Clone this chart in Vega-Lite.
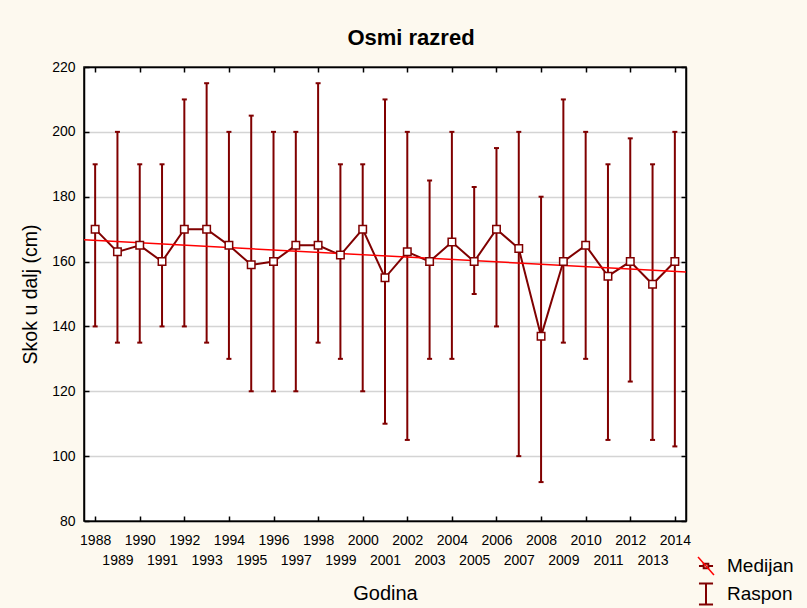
{
  "$schema": "https://vega.github.io/schema/vega-lite/v6.json",
  "width": 602,
  "height": 454,
  "autosize": "none",
  "padding": {"left": 84, "top": 67, "right": 121, "bottom": 87},
  "background": "#FDF9EF",
  "config": {
    "font": "Liberation Sans",
    "view": {"fill": "white", "stroke": "black", "strokeWidth": 1.5}
  },
  "title": {
    "text": "Osmi razred",
    "font": "Liberation Sans",
    "fontSize": 22,
    "fontWeight": "bold",
    "color": "black",
    "anchor": "middle",
    "frame": "group",
    "dx": 26,
    "offset": 10
  },
  "datasets": {
    "godine": [
      {"godina": 1988, "medijan": 170, "min": 140, "max": 190},
      {"godina": 1989, "medijan": 163, "min": 135, "max": 200},
      {"godina": 1990, "medijan": 165, "min": 135, "max": 190},
      {"godina": 1991, "medijan": 160, "min": 140, "max": 190},
      {"godina": 1992, "medijan": 170, "min": 140, "max": 210},
      {"godina": 1993, "medijan": 170, "min": 135, "max": 215},
      {"godina": 1994, "medijan": 165, "min": 130, "max": 200},
      {"godina": 1995, "medijan": 159, "min": 120, "max": 205},
      {"godina": 1996, "medijan": 160, "min": 120, "max": 200},
      {"godina": 1997, "medijan": 165, "min": 120, "max": 200},
      {"godina": 1998, "medijan": 165, "min": 135, "max": 215},
      {"godina": 1999, "medijan": 162, "min": 130, "max": 190},
      {"godina": 2000, "medijan": 170, "min": 120, "max": 190},
      {"godina": 2001, "medijan": 155, "min": 110, "max": 210},
      {"godina": 2002, "medijan": 163, "min": 105, "max": 200},
      {"godina": 2003, "medijan": 160, "min": 130, "max": 185},
      {"godina": 2004, "medijan": 166, "min": 130, "max": 200},
      {"godina": 2005, "medijan": 160, "min": 150, "max": 183},
      {"godina": 2006, "medijan": 170, "min": 140, "max": 195},
      {"godina": 2007, "medijan": 164, "min": 100, "max": 200},
      {"godina": 2008, "medijan": 137, "min": 92, "max": 180},
      {"godina": 2009, "medijan": 160, "min": 135, "max": 210},
      {"godina": 2010, "medijan": 165, "min": 130, "max": 200},
      {"godina": 2011, "medijan": 155.5, "min": 105, "max": 190},
      {"godina": 2012, "medijan": 160, "min": 123, "max": 198},
      {"godina": 2013, "medijan": 153, "min": 105, "max": 190},
      {"godina": 2014, "medijan": 160, "min": 103, "max": 200}
    ],
    "trend": [
      {"godina": 1987.5, "vrijednost": 166.7},
      {"godina": 2014.5, "vrijednost": 156.8}
    ]
  },
  "resolve": {"axis": {"x": "independent", "y": "independent"}, "scale": {"color": "independent"}},
  "layer": [
    {
      "data": {"name": "godine"},
      "mark": {"type": "rule", "strokeWidth": 2, "color": "#800000"},
      "encoding": {
        "x": {
          "field": "godina",
          "type": "quantitative",
          "scale": {"domain": [1987.5, 2014.5], "nice": false, "zero": false},
          "axis": {
            "values": [1988,1989,1990,1991,1992,1993,1994,1995,1996,1997,1998,1999,2000,2001,2002,2003,2004,2005,2006,2007,2008,2009,2010,2011,2012,2013,2014],
            "format": "d",
            "grid": false,
            "domainColor": "black",
            "domainWidth": 1.5,
            "tickColor": "black",
            "tickWidth": 1.5,
            "tickSize": -5,
            "tickOpacity": {"condition": {"test": "datum.value % 2 === 1", "value": 0}, "value": 1},
            "labelFont": "Liberation Sans",
            "labelFontSize": 14,
            "labelColor": "black",
            "labelBaseline": "top",
            "labelPadding": {"condition": {"test": "datum.value % 2 === 1", "value": 37}, "value": 17},
            "labelFlush": false,
            "labelOverlap": false,
            "labelBound": false,
            "title": "Godina",
            "titleFont": "Liberation Sans",
            "titleFontSize": 20,
            "titleFontWeight": "normal",
            "titleColor": "black",
            "titleBaseline": "middle",
            "titleY": 72
          }
        },
        "y": {
          "field": "min",
          "type": "quantitative",
          "scale": {"domain": [80, 220], "nice": false, "zero": false},
          "axis": {
            "values": [80, 100, 120, 140, 160, 180, 200, 220],
            "grid": true,
            "gridColor": "#d4d4d4",
            "gridWidth": 1.5,
            "domainColor": "black",
            "domainWidth": 1.5,
            "tickColor": "black",
            "tickWidth": 1.5,
            "tickSize": -5,
            "labelFont": "Liberation Sans",
            "labelFontSize": 14,
            "labelColor": "black",
            "labelPadding": 14,
            "title": "Skok u dalj (cm)",
            "titleFont": "Liberation Sans",
            "titleFontSize": 19.5,
            "titleFontWeight": "normal",
            "titleColor": "black",
            "titleBaseline": "middle",
            "titleX": -54,
            "titleY": 227
          }
        },
        "y2": {"field": "max"},
        "strokeDash": {
          "datum": "Raspon",
          "scale": {"domain": ["Raspon"], "range": [[1, 0]]},
          "legend": {
            "orient": "none",
            "legendX": 610.5,
            "legendY": 515.5,
            "title": null,
            "padding": 0,
            "symbolType": "M-0.67,-1H0.67M0,-1V1M-0.67,1H0.67",
            "symbolSize": 441,
            "symbolStrokeWidth": 2,
            "symbolStrokeColor": "#800000",
            "symbolFillColor": "transparent",
            "symbolDash": [1, 0],
            "labelFont": "Liberation Sans",
            "labelFontSize": 19,
            "labelColor": "black",
            "labelOffset": 9.5
          }
        }
      }
    },
    {
      "data": {"name": "godine"},
      "mark": {"type": "tick", "orient": "horizontal", "size": 5, "thickness": 2, "color": "#800000", "opacity": 1},
      "encoding": {
        "x": {"field": "godina", "type": "quantitative", "axis": null},
        "y": {"field": "max", "type": "quantitative", "axis": null}
      }
    },
    {
      "data": {"name": "godine"},
      "mark": {"type": "tick", "orient": "horizontal", "size": 5, "thickness": 2, "color": "#800000", "opacity": 1},
      "encoding": {
        "x": {"field": "godina", "type": "quantitative", "axis": null},
        "y": {"field": "min", "type": "quantitative", "axis": null}
      }
    },
    {
      "data": {"name": "godine"},
      "mark": {"type": "line", "strokeWidth": 2},
      "encoding": {
        "x": {"field": "godina", "type": "quantitative", "axis": null},
        "y": {"field": "medijan", "type": "quantitative", "axis": null},
        "color": {
          "datum": "Medijan",
          "scale": {"domain": ["Medijan"], "range": ["#800000"]},
          "legend": {
            "orient": "none",
            "legendX": 610.5,
            "legendY": 487.5,
            "title": null,
            "padding": 0,
            "symbolType": "M-0.67,0H-0.22M0.22,0H0.67M-0.22,-0.22H0.22V0.22H-0.22Z",
            "symbolSize": 441,
            "symbolStrokeWidth": 2,
            "symbolFillColor": "transparent",
            "labelFont": "Liberation Sans",
            "labelFontSize": 19,
            "labelColor": "black",
            "labelOffset": 9.5
          }
        }
      }
    },
    {
      "data": {"name": "trend"},
      "mark": {"type": "line", "strokeWidth": 1.5},
      "encoding": {
        "x": {
          "field": "godina",
          "type": "quantitative",
          "axis": {
            "orient": "top",
            "values": [1988,1990,1992,1994,1996,1998,2000,2002,2004,2006,2008,2010,2012,2014],
            "labels": false,
            "grid": false,
            "domainColor": "black",
            "domainWidth": 1.5,
            "tickColor": "black",
            "tickWidth": 1.5,
            "tickSize": -5,
            "title": null
          }
        },
        "y": {
          "field": "vrijednost",
          "type": "quantitative",
          "axis": {
            "orient": "right",
            "values": [80, 100, 120, 140, 160, 180, 200, 220],
            "labels": false,
            "grid": false,
            "domainColor": "black",
            "domainWidth": 1.5,
            "tickColor": "black",
            "tickWidth": 1.5,
            "tickSize": -5,
            "title": null
          }
        },
        "color": {
          "datum": "Medijan",
          "scale": {"domain": ["Medijan"], "range": ["#FF0000"]},
          "legend": {
            "orient": "none",
            "legendX": 610.5,
            "legendY": 487.5,
            "title": null,
            "padding": 0,
            "symbolType": "M-0.76,-0.86L0.76,0.86",
            "symbolSize": 441,
            "symbolStrokeWidth": 1.5,
            "symbolFillColor": "transparent",
            "labelFont": "Liberation Sans",
            "labelFontSize": 19,
            "labelColor": "black",
            "labelOpacity": 0,
            "labelOffset": 9.5
          }
        }
      }
    },
    {
      "data": {"name": "godine"},
      "mark": {"type": "point", "shape": "square", "size": 56, "filled": false, "fill": "white", "stroke": "#800000", "strokeWidth": 1.5, "opacity": 1},
      "encoding": {
        "x": {"field": "godina", "type": "quantitative", "axis": null},
        "y": {"field": "medijan", "type": "quantitative", "axis": null}
      }
    }
  ]
}
